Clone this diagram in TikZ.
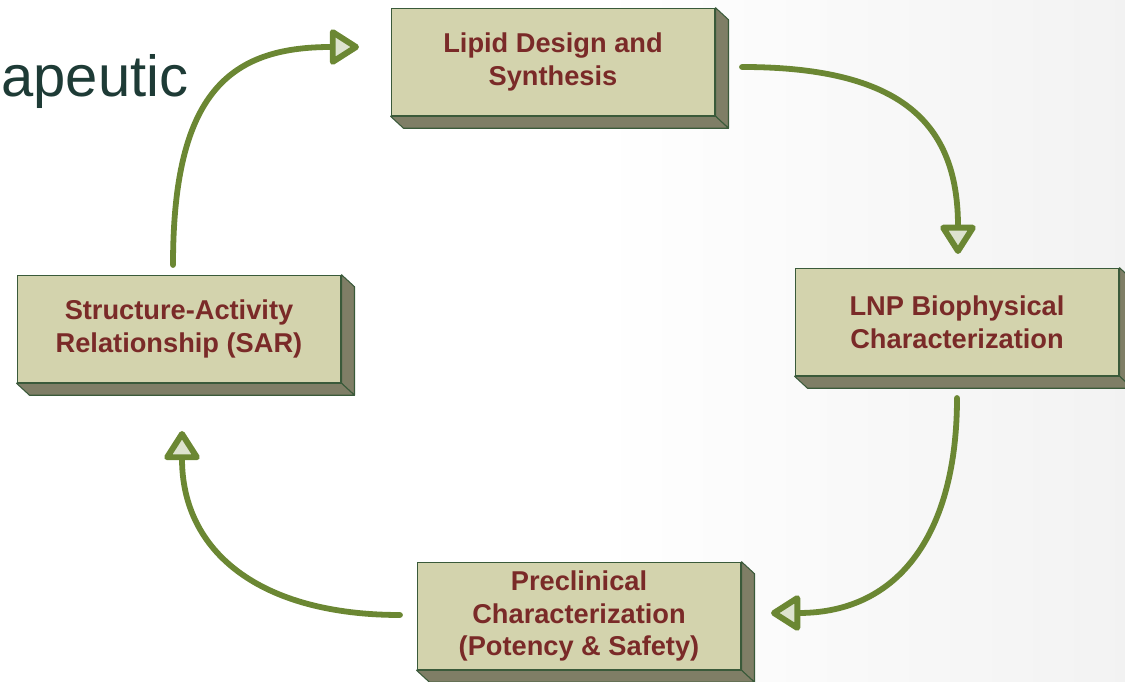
\documentclass[tikz,border=0pt]{standalone}
\usepackage{fontspec}
\setmainfont{Liberation Sans}
\usetikzlibrary{arrows.meta}
\definecolor{boxfill}{HTML}{D3D3AD}
\definecolor{boxside}{HTML}{7F7E66}
\definecolor{boxedge}{HTML}{3A5A3A}
\definecolor{cyclegreen}{HTML}{6B8733}
\definecolor{tipfill}{HTML}{DDE3CF}
\definecolor{stepred}{HTML}{7A2A28}
\definecolor{titlegreen}{HTML}{1E3B36}
\begin{document}
\begin{tikzpicture}[x=0.02cm, y=0.02cm,
    stepbox/.style={draw=boxedge, line width=0.6pt, fill=boxfill, minimum width=6.48cm,
        minimum height=2.15cm, inner sep=0pt, align=center, text=stepred,
        font=\bfseries\fontsize{15.5}{18.7}\selectfont},
    boxface/.style={fill=boxside, draw=boxedge, line width=0.6pt, line join=round},
    cyclearrow/.style={draw=cyclegreen, line width=3.3pt, line cap=round,
        -{Triangle[length=0.64cm, width=0.78cm, fill=tipfill, line width=3.4pt, round]}}]
    \useasboundingbox (0,0) rectangle (1125,682);

    % faint backdrop on the right
    \shade[left color=white, right color=black!5, draw=none] (600,0) rectangle (1125,682);

    % Title fragment
    \node[anchor=base west, inner sep=0pt, text=titlegreen,
        font=\fontsize{33}{36}\selectfont] (title) at (1,585) {apeutic};

    % Steps of the cycle
    \node[stepbox] (lipid) at (553,620) {Lipid Design and\\Synthesis};
    \node[stepbox] (lnp) at (957,360) {LNP Biophysical\\Characterization};
    \node[stepbox] (precl) at (579,66) {Preclinical\\Characterization\\(Potency \& Safety)};
    \node[stepbox] (sar) at (179,353) {Structure-Activity\\Relationship (SAR)};

    % Depth faces of the boxes
    \foreach \n in {lipid, lnp, precl, sar} {
        \path[boxface] (\n.north east) -- ++(13,-12) -- ([shift={(13,-12)}]\n.south east)
            -- (\n.south east) -- cycle;
        \path[boxface] (\n.south west) -- ([shift={(13,-12)}]\n.south west)
            -- ([shift={(13,-12)}]\n.south east) -- (\n.south east) -- cycle;
    }

    % Arrows between the steps
    \coordinate (sarout) at (173,417);
    \coordinate (lipidin) at (359,635);
    \coordinate (lipidout) at (742,615);
    \coordinate (lnpin) at (958,428);
    \coordinate (lnpout) at (957,284);
    \coordinate (preclin) at (771,69);
    \coordinate (preclout) at (400,67);
    \coordinate (sarin) at (182,251);

    \draw[cyclearrow] (sarout) .. controls (173,590) and (230,635) .. (lipidin);
    \draw[cyclearrow] (lipidout) .. controls (900,615) and (958,560) .. (lnpin);
    \draw[cyclearrow] (lnpout) .. controls (957,150) and (900,69) .. (preclin);
    \draw[cyclearrow] (preclout) .. controls (260,67) and (182,130) .. (sarin);
\end{tikzpicture}
\end{document}
